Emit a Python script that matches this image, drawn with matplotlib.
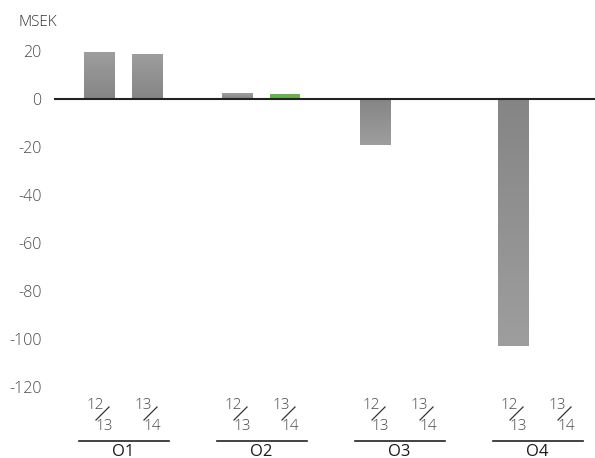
import numpy as np
import matplotlib
matplotlib.use("Agg")
from matplotlib import pyplot as plt
from matplotlib.colors import LinearSegmentedColormap

plt.rcParams['font.family'] = ['Open Sans', 'DejaVu Sans']
plt.rcParams['axes.unicode_minus'] = False

groups = ['O1', 'O2', 'O3', 'O4']
periods = [('12', '13'), ('13', '14')]
vals_1213 = [19.6, 2.5, -19.2, -103.0]
vals_1314 = [18.8, 2.1, 0.0, 0.0]
highlight = [False, True, False, False]   # 13/14 bar drawn green
yticks = [20, 0, -20, -40, -60, -80, -100, -120]

group_step = 2.875
bar_w = 0.625
txt_gray = '#4a4a4a'

fig = plt.figure(figsize=(5.95, 4.58), dpi=100)
ax = fig.add_axes([54 / 595, 1 - 387 / 458, 1 - 54 / 595, (387 - 51) / 458])

gray_cmap = LinearSegmentedColormap.from_list('g', ['#858585', '#9e9e9e'])
grad = np.linspace(0, 1, 256).reshape(-1, 1)

def draw_bar(x, v, green=False):
    if v == 0:
        return
    if green:
        ax.bar(x, v, width=bar_w, color='#6ab04c', zorder=2)
        return
    b = ax.bar(x, v, width=bar_w, color='#8c8c8c', zorder=2)[0]
    # darker next to zero, lighter further out
    im = ax.imshow(grad, cmap=gray_cmap, aspect='auto',
                   extent=[x - bar_w / 2, x + bar_w / 2, 0, v],
                   origin='lower', zorder=2.5)
    im.set_clip_path(b)

for i, g in enumerate(groups):
    x0 = i * group_step
    draw_bar(x0, vals_1213[i])
    draw_bar(x0 + 1, vals_1314[i], green=highlight[i])

ax.set_xlim(-0.9375, 10.333)
ax.set_ylim(-120, 20)
ax.axhline(0, color='#222222', lw=1.5, zorder=3)

for s in ax.spines.values():
    s.set_visible(False)
ax.set_xticks([])
ax.set_yticks(yticks)
ax.set_yticklabels([str(t) for t in yticks], fontweight='light')
ax.tick_params(axis='y', length=0, pad=9, labelsize=11.5, labelcolor=txt_gray)

fig.text(18 / 595, 1 - 22 / 458, 'MSEK', fontsize=11, color='#333333',
         va='center', ha='left', fontweight='light')

# period labels below the axis (fractions with a slash)
trans = ax.get_xaxis_transform()
px = 1 / 48  # one pixel in x data units
def ypos(p):
    return (387 - p) / 336

for i, g in enumerate(groups):
    x0 = i * group_step
    for j, (a, b) in enumerate(periods):
        xc = x0 + j
        ax.text(xc - 3.5 * px, ypos(405.5), a, transform=trans, ha='center',
                va='center', fontsize=11, color=txt_gray, clip_on=False,
                fontweight='light')
        ax.text(xc + 5.5 * px, ypos(426), b, transform=trans, ha='center',
                va='center', fontsize=11, color=txt_gray, clip_on=False,
                fontweight='light')
        ax.plot([xc - 3 * px, xc + 10 * px], [ypos(420), ypos(407)],
                transform=trans, color='#333333', lw=0.9, clip_on=False)
    gc = x0 + 0.5
    ax.plot([gc - 44 * px, gc + 46 * px], [ypos(441), ypos(441)], transform=trans,
            color='#222222', lw=1.2, clip_on=False)
    ax.text(gc, ypos(452), g, transform=trans, ha='center', va='center',
            fontsize=12, color='#1a1a1a', clip_on=False)

fig.savefig('out.png', dpi=100)
